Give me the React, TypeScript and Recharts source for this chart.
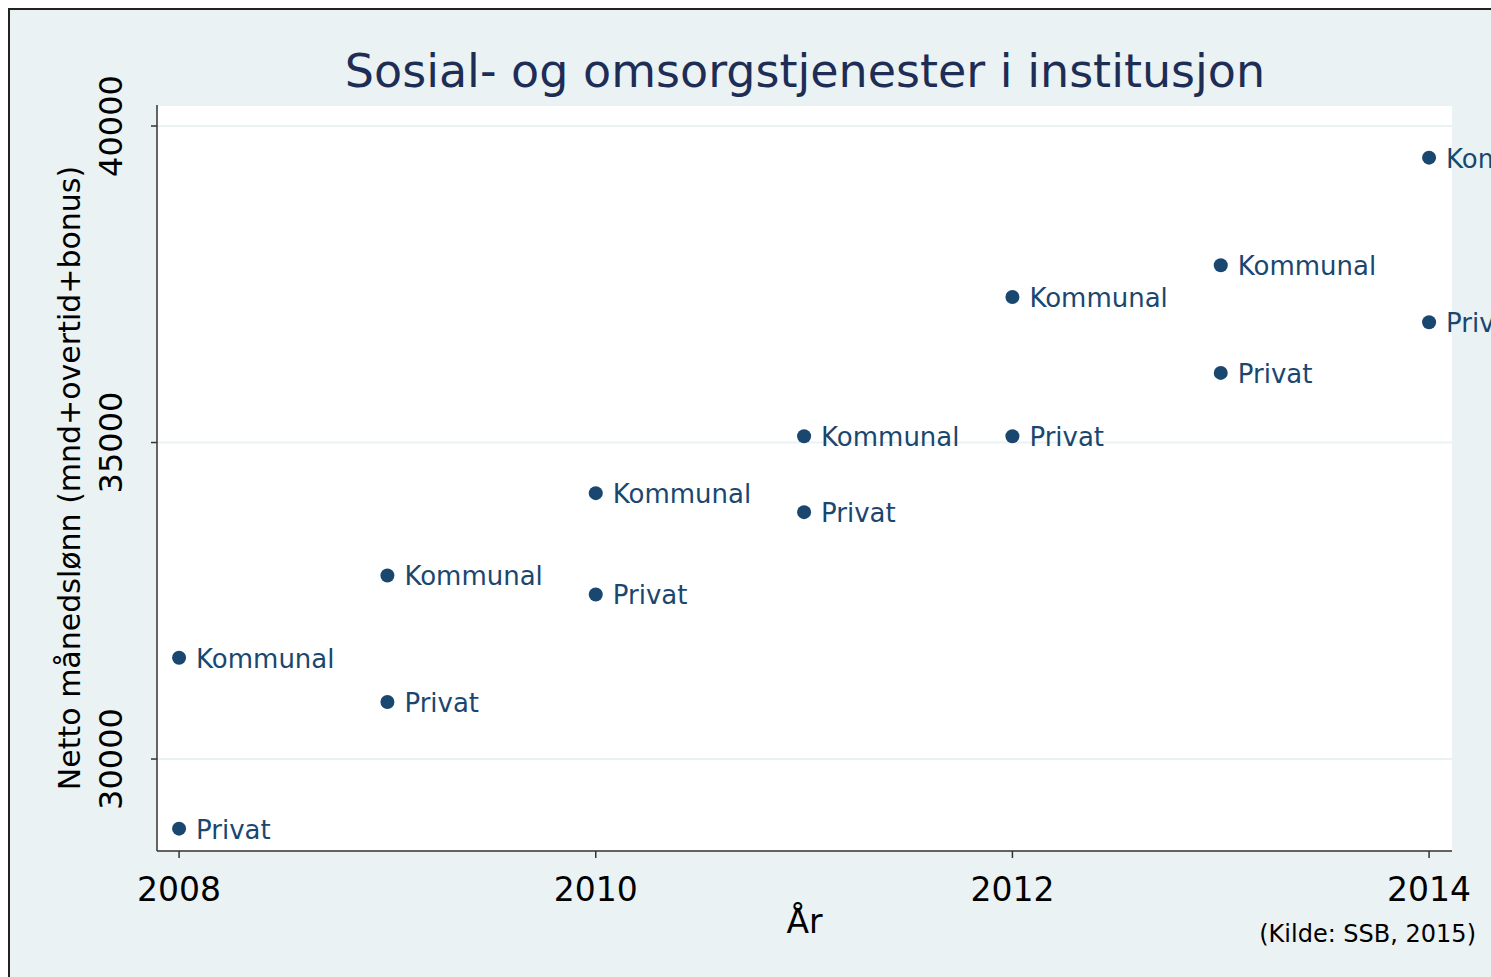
import React from "react";
import {
  ScatterChart,
  Scatter,
  XAxis,
  YAxis,
  CartesianGrid,
} from "recharts";

const years = [2008, 2009, 2010, 2011, 2012, 2013, 2014];
const kommunal = [31600, 32900, 34200, 35100, 37300, 37800, 39500];
const privat = [28900, 30900, 32600, 33900, 35100, 36100, 36900];
const xTicks = [2008, 2010, 2012, 2014];
const yTicks = [30000, 35000, 40000];

const FONT = "'DejaVu Sans', Verdana, sans-serif";
const NAVY = "#1a476f";
const BG = "#eaf2f3";

const kommunalData = years.map((y, i) => ({ year: y, value: kommunal[i], label: "Kommunal" }));
const privatData = years.map((y, i) => ({ year: y, value: privat[i], label: "Privat" }));

function Marker(props: any) {
  const { cx, cy, payload } = props;
  return (
    <g>
      <circle cx={cx} cy={cy} r={7} fill={NAVY} />
      <text
        x={cx + 17}
        y={cy + 10}
        fill={NAVY}
        fontSize={26}
        fontFamily={FONT}
      >
        {payload.label}
      </text>
    </g>
  );
}

function YTick(props: any) {
  const { y, payload } = props;
  const x = 122;
  return (
    <text
      x={x}
      y={y}
      transform={`rotate(-90, ${x}, ${y})`}
      textAnchor="middle"
      fontSize={32}
      fontFamily={FONT}
      fill="#000"
    >
      {payload.value}
    </text>
  );
}

function XTick(props: any) {
  const { x, payload } = props;
  return (
    <text x={x} y={901} textAnchor="middle" fontSize={33} fontFamily={FONT} fill="#000">
      {payload.value}
    </text>
  );
}

export default function App() {
  return (
    <div
      style={{
        position: "absolute",
        left: 0,
        top: 0,
        width: 1491,
        height: 977,
        overflow: "hidden",
        background: "#fff",
      }}
    >
      <div
        style={{
          position: "absolute",
          left: 8,
          top: 8,
          width: 1600,
          height: 1100,
          background: BG,
          borderLeft: "2px solid #222",
          borderTop: "2px solid #222",
        }}
      />
      <div
        style={{
          position: "absolute",
          left: 157,
          width: 1296,
          top: 44,
          textAlign: "center",
          fontFamily: FONT,
          fontSize: 46,
          color: "#1e2d55",
          whiteSpace: "nowrap",
        }}
      >
        Sosial- og omsorgstjenester i institusjon
      </div>
      <div style={{ position: "absolute", left: 0, top: 0 }}>
        <ScatterChart
          width={1491}
          height={977}
          margin={{ top: 105, right: 39, bottom: 66, left: 47 }}
        >
          <CartesianGrid
            horizontal
            vertical={false}
            stroke={BG}
            strokeWidth={2}
            fill="#fff"
            fillOpacity={1}
          />
          <XAxis
            dataKey="year"
            type="number"
            domain={[2007.894, 2014.11]}
            ticks={xTicks}
            tick={<XTick />}
            tickSize={7}
            height={60}
            axisLine={{ stroke: "#333", strokeWidth: 1.5 }}
            tickLine={{ stroke: "#333", strokeWidth: 1.5 }}
            label={{
              value: "År",
              position: "insideBottom",
              offset: -22,
              fontSize: 33,
              fontFamily: FONT,
              fill: "#000",
            }}
          />
          <YAxis
            dataKey="value"
            type="number"
            domain={[28547, 40332]}
            ticks={yTicks}
            tick={<YTick />}
            tickSize={6}
            width={110}
            axisLine={{ stroke: "#333", strokeWidth: 1.5 }}
            tickLine={{ stroke: "#333", strokeWidth: 1.5 }}
            label={{
              value: "Netto månedslønn (mnd+overtid+bonus)",
              angle: -90,
              position: "insideLeft",
              offset: 22,
              fontSize: 30,
              fontFamily: FONT,
              fill: "#000",
              style: { textAnchor: "middle" },
            }}
          />
          <Scatter data={kommunalData} fill={NAVY} shape={<Marker />} isAnimationActive={false} />
          <Scatter data={privatData} fill={NAVY} shape={<Marker />} isAnimationActive={false} />
        </ScatterChart>
      </div>
      <div
        style={{
          position: "absolute",
          right: 15,
          top: 920,
          fontFamily: FONT,
          fontSize: 24,
          color: "#000",
          whiteSpace: "nowrap",
        }}
      >
        (Kilde: SSB, 2015)
      </div>
    </div>
  );
}
